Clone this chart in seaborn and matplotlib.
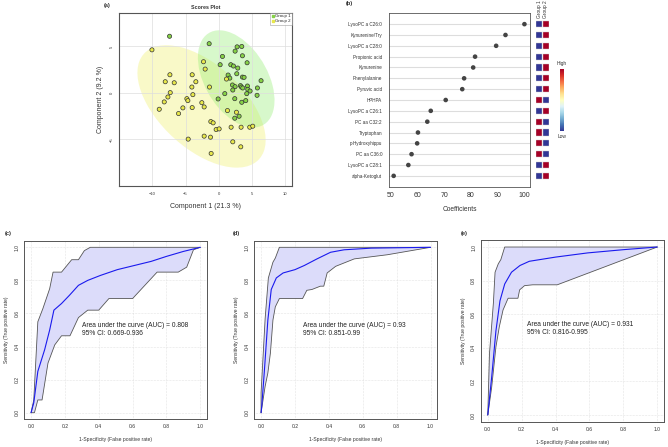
import numpy as np
import pandas as pd
import matplotlib
matplotlib.use('Agg')
import matplotlib.pyplot as plt
from matplotlib.patches import Ellipse
from matplotlib.lines import Line2D
import seaborn as sns

# ---- (a) scores plot ----
g1_x = [-7.4, -1.45, 2.75, 3.45, 2.45, 0.55, 3.55, 0.2, 1.8, 2.2, 2.85, 4.25, 2.7, 1.4,
        1.65, 3.55, 3.8, 2.05, 2.45, 3.25, 3.4, 3.6, 4.3, 4.35, 4.7, 5.8, 6.35, 2.1,
        0.9, 4.2, 5.75, -0.1, 2.4, 3.45, 4.05, 3.05, 2.4]
g1_y = [6.1, 5.3, 4.96, 5.0, 4.5, 3.93, 4.0, 3.04, 3.04, 2.9, 2.68, 3.25, 2.07, 1.93,
        1.6, 1.71, 1.68, 0.86, 0.68, 0.79, 0.64, 0.54, 0.75, 0.39, 0.21, 0.54, 1.32, 0.32,
        -0.07, -0.07, -0.25, -0.64, -0.61, -1.0, -0.82, -2.5, -2.71]
g2_x = [-10.05, -2.3, -2.05, -7.35, -4.0, -8.05, -6.7, -3.45, -4.05, -1.4, -7.3, -3.9,
        -7.65, -4.8, -4.65, -8.2, -2.55, -2.2, -5.4, -4.0, -8.95, -6.05, 1.3, 2.65,
        -1.2, -0.85, -0.4, 0.05, 1.85, 3.35, 4.65, 5.1, -2.2, -1.25, -4.6, 2.1, 3.3,
        -1.15, 1.15]
g2_y = [4.64, 3.36, 2.57, 1.96, 1.96, 1.21, 1.1, 1.21, 0.64, 0.64, 0.04, -0.18,
        -0.43, -0.61, -0.82, -0.96, -1.04, -1.5, -1.6, -1.57, -1.75, -2.21, -1.89, -2.07,
        -3.07, -3.21, -3.93, -3.86, -3.68, -3.68, -3.68, -3.57, -4.64, -4.75, -4.96, -5.25, -5.79,
        -6.5, 1.5]

# ---- (b) feature importance ----
features = ['LysoPC a C26:0', 'Kynurenine/Try', 'LysoPC a C28:0', 'Propionic acid',
            'Kynurenine', 'Phenylalanine', 'Pyruvic acid', 'HPHPA', 'LysoPC a C26:1',
            'PC aa C32:2', 'Tryptophan', 'p-Hydroxyhippu', 'PC aa C36:0',
            'LysoPC a C28:1', 'alpha-Ketoglut']
coefs = [100, 92.9, 89.4, 81.5, 80.8, 77.4, 76.7, 70.5, 64.9, 63.6, 60.1, 59.8, 57.7, 56.5, 51.0]
level_g1 = [0, 0, 0, 0, 0, 0, 0, 1, 0, 1, 1, 1, 1, 0, 0]
level_g2 = [1, 1, 1, 1, 1, 1, 1, 0, 1, 0, 0, 0, 0, 1, 1]

# ---- (c)-(e) ROC curves ----
c_mean_x = [0, 0.016, 0.04, 0.08, 0.11, 0.135, 0.18, 0.227, 0.28, 0.335, 0.41, 0.51, 0.61, 0.71, 0.80, 0.90, 1.0]
c_mean_y = [0, 0.06, 0.25, 0.38, 0.5, 0.62, 0.66, 0.71, 0.77, 0.80, 0.83, 0.865, 0.89, 0.915, 0.945, 0.975, 1.0]
c_up_x = [0, 0.016, 0.04, 0.07, 0.11, 0.13, 0.18, 0.24, 0.28, 0.315, 0.35, 1.0]
c_up_y = [0, 0.077, 0.55, 0.63, 0.75, 0.85, 0.85, 0.925, 0.925, 0.98, 1.0, 1.0]
c_lo_x = [0, 0.02, 0.04, 0.065, 0.1, 0.14, 0.18, 0.23, 0.28, 0.335, 0.40, 0.46, 0.60, 0.745, 0.87, 0.92, 0.96, 1.0]
c_lo_y = [0, 0, 0.077, 0.077, 0.3, 0.41, 0.465, 0.465, 0.575, 0.62, 0.62, 0.69, 0.69, 0.85, 0.85, 0.88, 0.985, 1.0]

d_mean_x = [0, 0.004, 0.02, 0.04, 0.06, 0.09, 0.13, 0.2, 0.255, 0.33, 0.41, 0.49, 0.65, 1.0]
d_mean_y = [0, 0.04, 0.26, 0.56, 0.745, 0.815, 0.845, 0.865, 0.89, 0.93, 0.97, 0.985, 0.995, 1.0]
d_up_x = [0, 0, 0.024, 0.043, 0.07, 0.084, 0.108, 1.0]
d_up_y = [0, 0.12, 0.57, 0.815, 0.91, 0.935, 1.0, 1.0]
d_lo_x = [0, 0.024, 0.04, 0.055, 0.07, 0.084, 0.108, 0.245, 0.27, 0.30, 0.35, 0.37, 0.39, 0.44, 0.55, 0.745, 1.0]
d_lo_y = [0, 0.16, 0.24, 0.36, 0.56, 0.64, 0.69, 0.69, 0.74, 0.745, 0.765, 0.765, 0.845, 0.885, 0.93, 0.955, 1.0]

e_mean_x = [0, 0.023, 0.048, 0.072, 0.10, 0.14, 0.19, 0.245, 0.40, 0.59, 0.81, 1.0]
e_mean_y = [0, 0.225, 0.50, 0.68, 0.78, 0.85, 0.89, 0.915, 0.94, 0.965, 0.985, 1.0]
e_up_x = [0, 0.01, 0.033, 0.043, 0.062, 0.077, 0.1, 1.0]
e_up_y = [0, 0.365, 0.665, 0.85, 0.9, 0.925, 1.0, 1.0]
e_lo_x = [0, 0.023, 0.048, 0.068, 0.09, 0.12, 0.178, 0.188, 0.217, 0.265, 0.41, 1.0]
e_lo_y = [0, 0.165, 0.405, 0.525, 0.625, 0.695, 0.695, 0.745, 0.77, 0.775, 0.775, 1.0]

auc_text = ['Area under the curve (AUC) = 0.808\n95% CI: 0.669-0.936',
            'Area under the curve (AUC) = 0.93\n95% CI: 0.851-0.99',
            'Area under the curve (AUC) = 0.931\n95% CI: 0.816-0.995']
auc_pos = [(0.30, 0.505), (0.25, 0.505), (0.232, 0.515)]

sns.set_style('white')
plt.rcParams['font.family'] = ['Liberation Sans', 'DejaVu Sans']
frame_color = '#555555'

fig = plt.figure(figsize=(6.68, 4.47), dpi=100)


def px_axes(left, top, right, bottom):
    W, H = 668.0, 447.0
    return fig.add_axes([left / W, 1 - bottom / H, (right - left) / W, (bottom - top) / H])


def style_frame(ax, lw=0.6):
    for s in ax.spines.values():
        s.set_visible(True)
        s.set_color(frame_color)
        s.set_linewidth(lw)
    ax.tick_params(direction='out', length=2, width=0.4, color=frame_color,
                   pad=1.5, labelcolor='#333333')


def conf_ellipse(ax, x, y, color, alpha):
    # 95% confidence ellipse from the group covariance
    cov = np.cov(x, y)
    vals, vecs = np.linalg.eigh(cov)
    order = vals.argsort()[::-1]
    vals, vecs = vals[order], vecs[:, order]
    angle = np.degrees(np.arctan2(vecs[1, 0], vecs[0, 0]))
    k = np.sqrt(5.991)
    w, h = 2 * k * np.sqrt(vals)
    ax.add_patch(Ellipse((np.mean(x), np.mean(y)), w, h, angle=angle,
                         fc=color, ec='none', alpha=alpha, zorder=0))


# ---------------- (a) ----------------
ax = px_axes(119, 13, 292, 186)
conf_ellipse(ax, g2_x, g2_y, '#f0f070', 0.38)
conf_ellipse(ax, g1_x, g1_y, '#98ee78', 0.38)
sc_df = pd.DataFrame({'x': g1_x + g2_x, 'y': g1_y + g2_y,
                      'group': ['Group 1'] * len(g1_x) + ['Group 2'] * len(g2_x)})
sns.scatterplot(data=sc_df, x='x', y='y', hue='group', ax=ax, s=9,
                palette={'Group 1': '#86d246', 'Group 2': '#e8e84a'},
                edgecolor='#333333', linewidth=0.5, legend=False, zorder=3)
ax.set_xlim(-15, 11)
ax.set_ylim(-10, 8.6)
ax.set_xticks([-10, -5, 0, 5, 10])
ax.set_yticks([-5, 0, 5])
ax.grid(True, color='#dddddd', lw=0.5)
ax.set_axisbelow(True)
style_frame(ax, lw=0.8)
ax.tick_params(labelsize=3, length=0, pad=4)
for t in ax.get_yticklabels():
    t.set_rotation(90)
    t.set_va('center')
ax.set_xlabel('Component 1 (21.3 %)', fontsize=5, labelpad=5, color='#333333')
ax.set_ylabel('Component 2 (9.2 %)', fontsize=5, labelpad=4, color='#333333')
ax.set_title('Scores Plot', fontsize=3.8, fontweight='bold', pad=3, color='#333333')
handles = [Line2D([], [], marker='s', ls='', color='#86d246', ms=1.6, label='Group 1'),
           Line2D([], [], marker='s', ls='', color='#e8e84a', ms=1.6, label='Group 2')]
leg = ax.legend(handles=handles, loc='upper right', fontsize=3.2, frameon=True,
                fancybox=False, borderaxespad=0, handletextpad=0.2, handlelength=0.6,
                borderpad=0.3, labelspacing=0.2)
leg.get_frame().set_edgecolor('#888888')
leg.get_frame().set_linewidth(0.4)
fig.text(104 / 668, 1 - 5 / 447, '(a)', fontsize=4, fontweight='bold', va='center')

# ---------------- (b) ----------------
axb = px_axes(389, 13.3, 530.3, 186.7)
pos = list(range(len(features)))
sns.scatterplot(x=coefs, y=pos, ax=axb, color='#444444', s=11, edgecolor='none', zorder=3)
axb.set_xlim(49.25, 102.2)
axb.set_ylim(15, -1)
axb.set_yticks(pos)
axb.set_yticklabels(features)
axb.set_xticks([50, 60, 70, 80, 90, 100])
axb.grid(True, axis='y', color='#dddddd', lw=0.8)
axb.set_axisbelow(True)
style_frame(axb, lw=0.6)
axb.tick_params(axis='y', labelsize=3.3, length=3.5)
axb.tick_params(axis='x', labelsize=5, length=2.5)
axb.set_xlabel('Coefficients', fontsize=4.8, labelpad=5, color='#333333')
fig.text(346 / 668, 1 - 4 / 447, '(b)', fontsize=4, fontweight='bold', va='center')

# heat squares next to the dot plot
axh = px_axes(536.1, 13.3, 548.9, 186.7)
hm_df = pd.DataFrame({'col': [0] * len(pos) + [1] * len(pos), 'row': pos + pos,
                      'level': level_g1 + level_g2})
sq = axh.scatter(hm_df['col'], hm_df['row'], c=hm_df['level'], cmap='RdYlBu_r',
                 vmin=0, vmax=1, marker='s', s=19, edgecolors='#cccccc', linewidths=0.3)
axh.set_xlim(-0.5, 1.5)
axh.set_ylim(15, -1)
axh.axis('off')
for i, g in enumerate(['Group 1', 'Group 2']):
    axh.text(i, -0.55, g, rotation=90, ha='center', va='bottom', fontsize=3.5, color='#333333')

cax = px_axes(560, 69, 564, 131)
cb = fig.colorbar(sq, cax=cax)
cb.set_ticks([])
cb.outline.set_visible(False)
fig.text(562 / 668, 1 - 63 / 447, 'High', fontsize=3.5, ha='center', va='center', color='#333333')
fig.text(562 / 668, 1 - 137 / 447, 'Low', fontsize=3.5, ha='center', va='center', color='#333333')

# ---------------- (c)-(e) ----------------
roc_sets = [
    (c_mean_x, c_mean_y, c_up_x, c_up_y, c_lo_x, c_lo_y),
    (d_mean_x, d_mean_y, d_up_x, d_up_y, d_lo_x, d_lo_y),
    (e_mean_x, e_mean_y, e_up_x, e_up_y, e_lo_x, e_lo_y),
]
roc_boxes = [(24.3, 240.7, 207, 419.3), (254.3, 240.7, 437.3, 419.3), (481, 240.3, 664, 421.7)]
panel_lbl = [('(c)', 5), ('(d)', 233), ('(e)', 461)]

for k, (mx, my, ux, uy, lx, ly) in enumerate(roc_sets):
    ax = px_axes(*roc_boxes[k])
    poly_x = list(ux) + list(lx)[::-1]
    poly_y = list(uy) + list(ly)[::-1]
    ax.fill(poly_x, poly_y, color='#dcdcfa', zorder=1, lw=0)
    sns.lineplot(x=ux, y=uy, ax=ax, sort=False, estimator=None, color='#555555', lw=0.6, zorder=2)
    sns.lineplot(x=lx, y=ly, ax=ax, sort=False, estimator=None, color='#555555', lw=0.6, zorder=2)
    sns.lineplot(x=mx, y=my, ax=ax, sort=False, estimator=None, color='#1a1aee', lw=0.8, zorder=3)
    ax.set_xlim(-0.04, 1.04)
    ax.set_ylim(-0.04, 1.04)
    ticks = [0, 0.2, 0.4, 0.6, 0.8, 1.0]
    ax.set_xticks(ticks)
    ax.set_yticks(ticks)
    ax.set_xticklabels(['0.0', '0.2', '0.4', '0.6', '0.8', '1.0'])
    ax.set_yticklabels(['0.0', '0.2', '0.4', '0.6', '0.8', '1.0'], rotation=90, va='center')
    ax.grid(True, color='#cccccc', lw=0.4, ls=':')
    ax.set_axisbelow(True)
    style_frame(ax, lw=0.7)
    ax.tick_params(labelsize=3.6)
    ax.set_xlabel('1-Specificity (False positive rate)', fontsize=3.6, labelpad=6, color='#333333')
    ax.set_ylabel('Sensitivity (True positive rate)', fontsize=3.6, labelpad=4, color='#333333')
    ax.text(auc_pos[k][0], auc_pos[k][1], auc_text[k], fontsize=4.8, va='center',
            ha='left', color='#222222', linespacing=1.15)
    lbl, lx_px = panel_lbl[k]
    fig.text(lx_px / 668, 1 - 234 / 447, lbl, fontsize=4, fontweight='bold', va='center')

fig.savefig('out.png', dpi=100, facecolor='white')
